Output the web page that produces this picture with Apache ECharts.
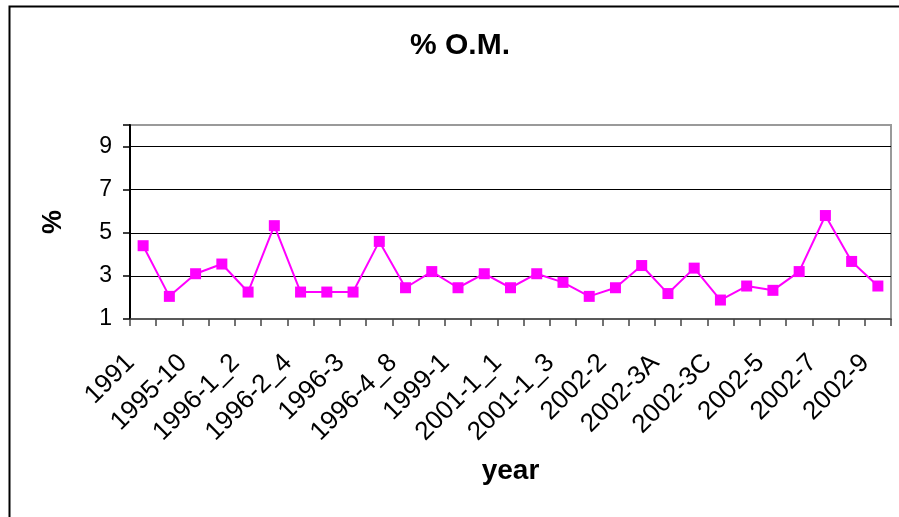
<!DOCTYPE html>
<html>
<head>
<meta charset="utf-8">
<style>
  html, body { margin: 0; padding: 0; background: #fff; }
  #chart { width: 899px; height: 517px; }
</style>
<script src="https://cdn.jsdelivr.net/npm/echarts@6/dist/echarts.min.js"></script>
</head>
<body>
<div id="chart"></div>
<script>
// Sampling events (every other one is labelled on the axis)
const categories = [
  '1991', '1995-1', '1995-10', '1996-1_1', '1996-1_2', '1996-2_1', '1996-2_4',
  '1996-2_6', '1996-3', '1996-4_2', '1996-4_8', '1998-1', '1999-1', '2000-1',
  '2001-1_1', '2001-1_2', '2001-1_3', '2002-1', '2002-2', '2002-3', '2002-3A',
  '2002-3B', '2002-3C', '2002-4', '2002-5', '2002-6', '2002-7', '2002-8', '2002-9'
];

// Organic matter content, %
const omPercent = [
  4.4, 2.05, 3.1, 3.55, 2.25, 5.33, 2.25, 2.25, 2.25, 4.6,
  2.45, 3.2, 2.45, 3.1, 2.45, 3.1, 2.7, 2.05, 2.45, 3.48,
  2.18, 3.36, 1.88, 2.53, 2.33, 3.2, 5.8, 3.67, 2.53
];

// Value axis range and step
const yMin = 1;
const yMax = 10;
const yStep = 2;

const FONT = '"Liberation Sans", Arial, sans-serif';

const chart = echarts.init(document.getElementById('chart'), null, { renderer: 'canvas' });

chart.setOption({
  animation: false,
  backgroundColor: '#fff',
  title: {
    text: '% O.M.',
    left: 405,
    top: 26,
    textStyle: { fontFamily: FONT, fontWeight: 'bold', fontSize: 30, color: '#000' }
  },
  // outer chart frame
  graphic: [{
    type: 'rect',
    left: 7,
    top: 4,
    shape: { width: 1000, height: 600 },
    style: { fill: 'none', stroke: '#000', lineWidth: 2 },
    silent: true
  }],
  grid: {
    left: 130,
    right: 8,
    top: 125,
    bottom: 198,
    show: true,
    borderColor: '#9a9a9a',
    borderWidth: 2,
    backgroundColor: 'transparent'
  },
  xAxis: {
    type: 'category',
    data: categories,
    boundaryGap: true,
    name: 'year',
    nameLocation: 'middle',
    nameGap: 138,
    nameTextStyle: { fontFamily: FONT, fontWeight: 'bold', fontSize: 28, color: '#000' },
    axisLine: { show: true, lineStyle: { color: '#444', width: 1.5 } },
    axisTick: { show: true, alignWithLabel: false, interval: 0, length: 7, lineStyle: { color: '#444', width: 1.5 } },
    axisLabel: {
      interval: 1,
      rotate: 45,
      margin: 27,
      padding: [0, 18, 0, 0],
      fontFamily: FONT,
      fontSize: 26,
      color: '#000'
    },
    splitLine: { show: false }
  },
  yAxis: {
    type: 'value',
    min: yMin,
    max: yMax,
    interval: yStep,
    name: '%',
    nameLocation: 'middle',
    nameRotate: 90,
    nameGap: 63,
    nameTextStyle: { fontFamily: FONT, fontWeight: 'bold', fontSize: 27, color: '#000' },
    axisLine: { show: true, lineStyle: { color: '#000', width: 2 } },
    axisTick: { show: true, length: 7, lineStyle: { color: '#000', width: 1.5 } },
    axisLabel: {
      margin: 18,
      fontFamily: FONT,
      fontSize: 23,
      color: '#000',
      formatter: v => (v >= yMax ? '' : String(v))
    },
    splitLine: { show: true, showMinLine: false, showMaxLine: false, lineStyle: { color: '#000', width: 1.2 } }
  },
  series: [{
    type: 'line',
    data: omPercent,
    symbol: 'rect',
    symbolSize: 11,
    lineStyle: { color: '#ff00ff', width: 2 },
    itemStyle: { color: '#ff00ff' }
  }]
});
</script>
</body>
</html>
